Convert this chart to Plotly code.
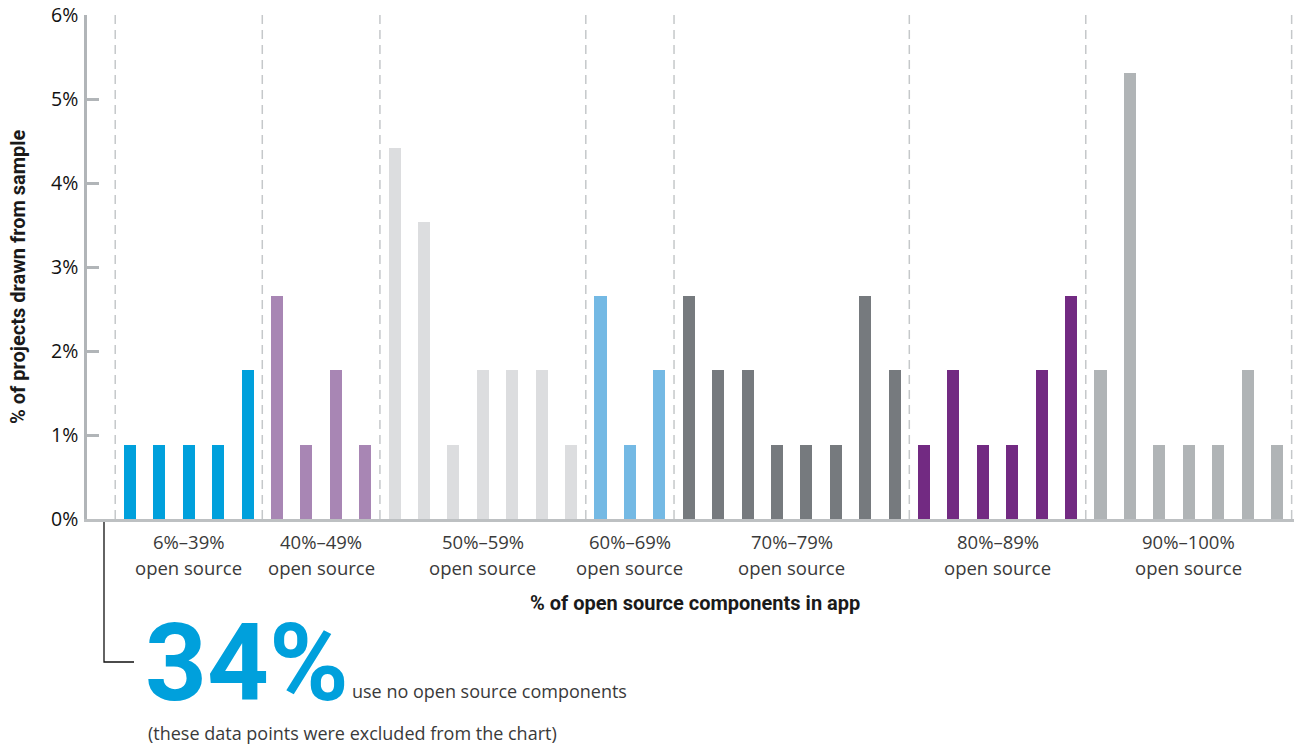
import plotly.graph_objects as go

# ---- data -------------------------------------------------------------
group_ranges = ["6%–39%", "40%–49%", "50%–59%", "60%–69%", "70%–79%", "80%–89%", "90%–100%"]
group_colors = ["#00A0DC", "#A886B4", "#DCDDDF", "#74B9E4", "#767A7E", "#722A82", "#B0B4B6"]

g1 = [0.88, 0.88, 0.88, 0.88, 1.77]
g2 = [2.65, 0.88, 1.77, 0.88]
g3 = [4.42, 3.54, 0.88, 1.77, 1.77, 1.77, 0.88]
g4 = [2.65, 0.88, 1.77]
g5 = [2.65, 1.77, 1.77, 0.88, 0.88, 0.88, 2.65, 1.77]
g6 = [0.88, 1.77, 0.88, 0.88, 1.77, 2.65]
g7 = [1.77, 5.31, 0.88, 0.88, 0.88, 1.77, 0.88]
groups = [g1, g2, g3, g4, g5, g6, g7]

y_ticks = [0, 1, 2, 3, 4, 5, 6]
y_ticklabels = ["0%", "1%", "2%", "3%", "4%", "5%", "6%"]

headline = "34%"
headline_text = "use no open source components"
footnote = "(these data points were excluded from the chart)"
x_title = "% of open source components in app"
y_title = "% of projects drawn from sample"

# ---- figure -----------------------------------------------------------
fig = go.Figure()
LIGHT = "Open Sans"
BOLD = "Roboto"

start = 0
centers = []
boundaries = [-0.5]
for vals, col, name in zip(groups, group_colors, group_ranges):
    xs = list(range(start, start + len(vals)))
    fig.add_trace(go.Bar(x=xs, y=vals, marker=dict(color=col, line=dict(width=0)),
                         width=0.41, name=name, showlegend=False))
    centers.append((xs[0] + xs[-1]) / 2)
    start += len(vals)
    boundaries.append(start - 0.5)

# dashed separators
for b in boundaries:
    fig.add_shape(type="line", xref="x", yref="y", x0=b, x1=b, y0=0, y1=6,
                  line=dict(color="#C5C8CA", width=1.5, dash="9px,6px"), layer="below")

PLOT_L, PLOT_R, PLOT_T, PLOT_B = 87, 1294, 15, 519
PW, PH = PLOT_R - PLOT_L, PLOT_B - PLOT_T

def px(xp):
    return (xp - PLOT_L) / PW

def py(yp):
    return (PLOT_B - yp) / PH

ann = []
for c, r in zip(centers, group_ranges):
    ann.append(dict(x=c, xref="x", y=py(541), yref="paper", text=r, showarrow=False,
                    xanchor="center", yanchor="middle",
                    font=dict(family=LIGHT, size=18.5, color="#3a3a3a")))
    ann.append(dict(x=c, xref="x", y=py(567), yref="paper", text="open source", showarrow=False,
                    xanchor="center", yanchor="middle",
                    font=dict(family=LIGHT, size=18.5, color="#3a3a3a")))

ann.append(dict(x=px(695), xref="paper", y=py(603), yref="paper", text=x_title, showarrow=False,
                xanchor="center", yanchor="middle",
                font=dict(family=BOLD, size=20, color="#1a1a1a", weight="bold")))
ann.append(dict(x=px(18), xref="paper", y=py(277), yref="paper", text=y_title, showarrow=False,
                textangle=-90, xanchor="center", yanchor="middle",
                font=dict(family=BOLD, size=20, color="#1a1a1a", weight="bold")))
ann.append(dict(x=px(143), xref="paper", y=py(663), yref="paper", text=headline, showarrow=False,
                xanchor="left", yanchor="middle",
                font=dict(family=BOLD, size=108, color="#00A0DC", weight="bold")))
ann.append(dict(x=px(350), xref="paper", y=py(691), yref="paper", text=headline_text, showarrow=False,
                xanchor="left", yanchor="middle",
                font=dict(family=LIGHT, size=18, color="#3a3a3a")))
ann.append(dict(x=px(146), xref="paper", y=py(733), yref="paper", text=footnote, showarrow=False,
                xanchor="left", yanchor="middle",
                font=dict(family=LIGHT, size=18, color="#3a3a3a")))

# bracket line
fig.add_shape(type="path", xref="paper", yref="paper",
              path=f"M {px(104)} {py(522)} L {px(104)} {py(662)} L {px(134)} {py(662)}",
              line=dict(color="#111111", width=1.3))

fig.update_layout(
    width=1294, height=745,
    margin=dict(l=PLOT_L, r=1294 - PLOT_R, t=PLOT_T, b=745 - PLOT_B),
    paper_bgcolor="white", plot_bgcolor="white",
    bargap=0,
    annotations=ann,
    xaxis=dict(range=[-1.46, 39.58], showgrid=False, zeroline=False, showticklabels=False,
               ticks="", showline=True, linecolor="#BDC0C2", linewidth=3, fixedrange=True),
    yaxis=dict(range=[0, 6], tickvals=y_ticks, ticktext=y_ticklabels, showgrid=False,
               zeroline=False, showline=True, linecolor="#B1B5B8", linewidth=2.5,
               ticks="inside", ticklen=12, tickwidth=3, tickcolor="#B1B5B8",
               ticklabelstandoff=2,
               tickfont=dict(family=LIGHT, size=19.5, color="#111111"), fixedrange=True),
)

fig.write_html("out.html")
